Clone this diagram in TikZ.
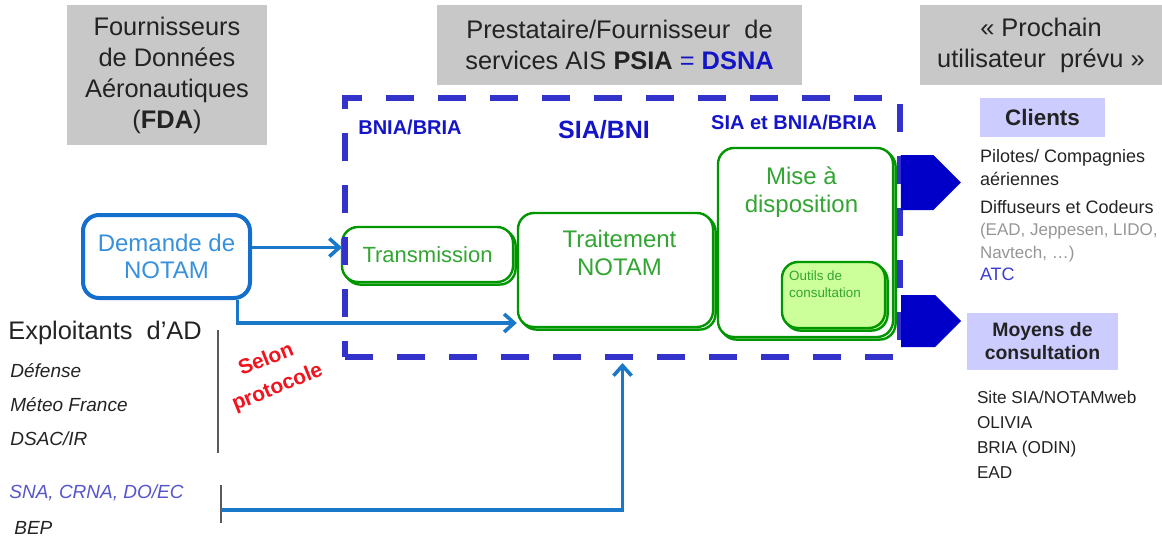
\documentclass[tikz,border=0pt]{standalone}
\usepackage{fontspec}
\setmainfont{Liberation Sans}
\usepackage{tikz}
\usetikzlibrary{positioning,shapes.symbols,shadows,arrows.meta}

\definecolor{hdrgray}{RGB}{200,200,200}
\definecolor{txtdark}{RGB}{35,35,35}
\definecolor{framblue}{RGB}{51,51,204}
\definecolor{labblue}{RGB}{20,20,200}
\definecolor{boxgreen}{RGB}{0,150,0}
\definecolor{txtgreen}{RGB}{50,165,50}
\definecolor{lightgreen}{RGB}{204,255,153}
\definecolor{flowblue}{RGB}{25,120,200}
\definecolor{demblue}{RGB}{20,110,205}
\definecolor{demtext}{RGB}{55,145,220}
\definecolor{sigblue}{RGB}{0,0,200}
\definecolor{lavender}{RGB}{204,204,255}
\definecolor{sepgray}{RGB}{90,90,90}
\definecolor{txtgray}{RGB}{150,150,150}
\definecolor{atcblue}{RGB}{60,60,210}
\definecolor{snablue}{RGB}{85,85,205}
\definecolor{selonred}{RGB}{240,20,30}

\begin{document}
\begin{tikzpicture}[x=0.5pt,y=-0.5pt,
   hdr/.style={fill=hdrgray,text=txtdark,align=center,inner sep=0pt,font=\fontsize{12.7}{15.5}\selectfont},
   greenbox/.style={draw=boxgreen,line width=1.2pt,rounded corners=8pt,fill=white,
      copy shadow={shadow xshift=1.3pt,shadow yshift=-1.3pt}},
   greentext/.style={text=txtgreen,align=center,inner sep=0pt,font=\fontsize{12}{13.8}\selectfont},
   sialabel/.style={text=labblue,inner sep=0pt,font=\bfseries\fontsize{10}{12}\selectfont},
   flow/.style={draw=flowblue,line width=1.8pt,-{Straight Barb[length=5pt,width=9pt]}},
   tousers/.style={signal,signal to=east,fill=sigblue,inner sep=0pt,minimum width=30pt},
   userbox/.style={fill=lavender,text=txtdark,align=center,inner sep=0pt,font=\bfseries\fontsize{9.7}{11.5}\selectfont},
   sep/.style={draw=sepgray,line width=0.8pt},
   small/.style={align=left,inner sep=0pt,text=txtdark}]
   \useasboundingbox (0,0) rectangle (1162,536);

   \node[hdr,minimum width=100pt,minimum height=70pt] (fda) at (167,75) {Fournisseurs\\de Données\\Aéronautiques\\(\textbf{FDA})};
   \node[hdr,minimum width=182.5pt,minimum height=40pt] (psia) at (619.5,45) {Prestataire/Fournisseur\ \ de\\services AIS \textbf{PSIA} {\color{labblue}= \textbf{DSNA}}};
   \node[hdr,minimum width=121pt,minimum height=40pt] (user) at (1041,45) {« Prochain\\utilisateur\ \ prévu »};

   \node[greenbox,greentext,font=\fontsize{11}{13}\selectfont,minimum width=85.5pt,minimum height=27.5pt] (trans) at (427.5,254.5) {Transmission};
   \node[greenbox,minimum width=97.5pt,minimum height=57pt] (trait) at (615.5,270) {};
   \node[greentext] (traittxt) [below=9pt of trait.north,xshift=2pt] {Traitement\\NOTAM};
   \node[greenbox,minimum width=87.5pt,minimum height=94.5pt] (mise) at (805.5,242.5) {};
   \node[greentext] (misetxt) [below=10pt of mise.north,xshift=-2pt] {Mise à\\disposition};
   \node[greenbox,fill=lightgreen,minimum width=51.5pt,minimum height=33pt] (outils) at (833.5,295) {};
   \node[small,text=txtgreen,font=\fontsize{6.7}{8.5}\selectfont] (outilstxt) [below right=5pt and 4pt of outils.north west] {Outils de\\consultation};

   \node[draw=framblue,line width=3pt,dash pattern=on 14pt off 12pt,inner sep=0pt,
      minimum width=277.5pt,minimum height=129.5pt] (dsna) at (622.5,227.5) {};
   \node[sialabel] (bnia) at (410,127) {BNIA/BRIA};
   \node[sialabel,font=\bfseries\fontsize{12.5}{14}\selectfont] (siabni) at (604,130) {SIA/BNI};
   \node[sialabel] (siaet) at (794,122) {SIA et BNIA/BRIA};

   \node[tousers,minimum height=27.5pt] (tocli) at (917,182.5) {};
   \node[tousers,minimum height=26pt] (tocons) at (918,321) {};

   \node[draw=demblue,line width=2pt,rounded corners=8pt,fill=white,text=demtext,align=center,
      font=\fontsize{12}{13.5}\selectfont,minimum width=83.5pt,minimum height=41.5pt] (dem) at (166.5,256.5) {Demande de\\NOTAM};

   \node[userbox,font=\bfseries\fontsize{11.2}{13}\selectfont,minimum width=62.5pt,minimum height=19.5pt] (clients) at (1042.5,117.5) {Clients};
   \node[small,font=\fontsize{9}{11.3}\selectfont] (clilist) [below right=6pt and 0pt of clients.south west]
      {Pilotes/ Compagnies\\aériennes\\[2.5pt]Diffuseurs et Codeurs\\{\color{txtgray}\fontsize{8.5}{11.3}\selectfont(EAD, Jeppesen, LIDO,}\\{\color{txtgray}\fontsize{8.5}{11.3}\selectfont Navtech, \ldots)}\\\textcolor{atcblue}{ATC}};
   \node[userbox,minimum width=75.5pt,minimum height=28.5pt] (moyens) at (1042.5,341.5) {Moyens de\\consultation};
   \node[small,font=\fontsize{8.6}{12.5}\selectfont] (moylist) [below right=10pt and 5pt of moyens.south west]
      {Site SIA/NOTAMweb\\OLIVIA\\BRIA (ODIN)\\EAD};

   \node[small,anchor=west,font=\fontsize{12.7}{15}\selectfont] (expl) at (8,333) {Exploitants\ \ d’AD};
   \node[small,font=\itshape\fontsize{9.5}{17}\selectfont] (exlist) [below right=9pt and 1pt of expl.south west]
      {Défense\\Méteo France\\DSAC/IR};
   \node[small,anchor=west,text=snablue,font=\itshape\fontsize{9.5}{11}\selectfont] (sna) at (9,493) {SNA, CRNA, DO/EC};
   \node[small,anchor=west,font=\itshape\fontsize{9.5}{11}\selectfont] (bep) at (14,528) {BEP};
   \node[text=selonred,align=center,inner sep=0pt,rotate=22,font=\bfseries\fontsize{10.5}{15}\selectfont] (selon) at (272,374) {Selon\\protocole};

   \draw[sep] (218,330) -- (218,453);
   \draw[sep] (221,485) -- (221,523);
   \coordinate (snabar) at (221,510);

   \draw[flow] ([yshift=4.5pt]dem.east) -- ([yshift=4.5pt]dem.east -| dsna.west);
   \draw[flow] ([xshift=35.5pt]dem.south) |- ([yshift=-26.5pt]trait.west);
   \draw[flow,shorten >=1.5pt] (snabar) -| (dsna.south);
\end{tikzpicture}
\end{document}
